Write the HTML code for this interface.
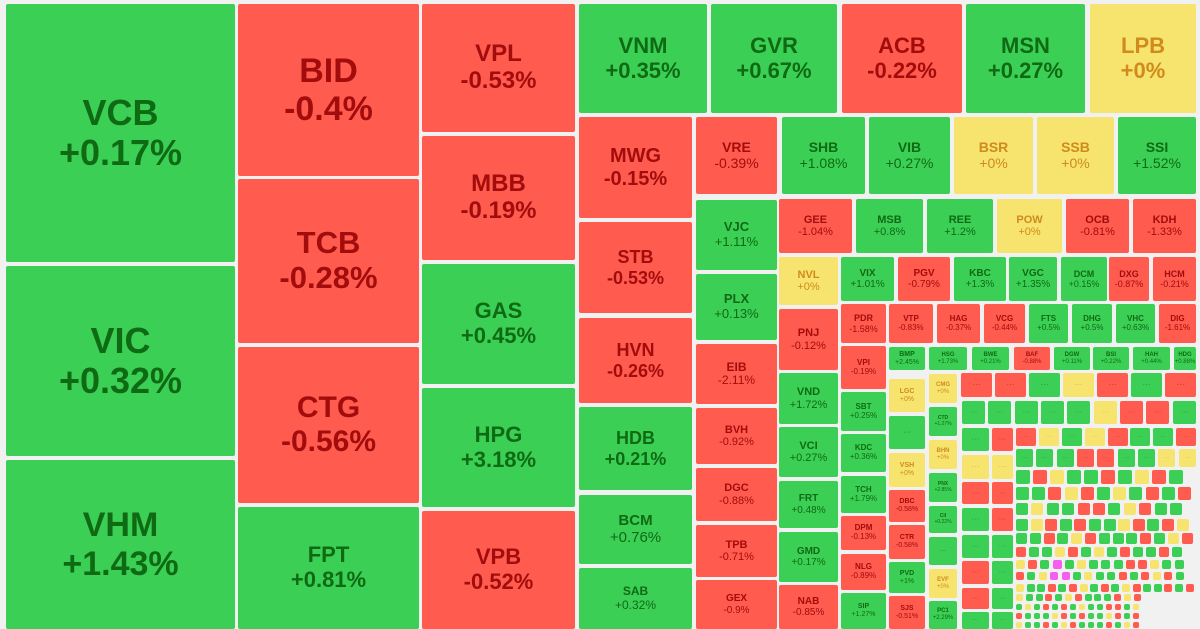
<!DOCTYPE html>
<html><head><meta charset="utf-8">
<style>
html,body{margin:0;padding:0;background:#f1f1f1;}
#map{position:relative;width:1200px;height:629px;overflow:hidden;background:#f1f1f1;font-family:"Liberation Sans",Arial,sans-serif;}
.t{position:absolute;border-radius:2px;display:flex;flex-direction:column;align-items:center;justify-content:center;text-align:center;line-height:1.12;box-sizing:border-box;overflow:hidden;}
.t b{font-weight:700;display:block}
.t span{display:block}
.g{background:#3ccf55;color:#0f6a14}
.r{background:#ff5b4f;color:#a30c0c}
.y{background:#f6e46e;color:#d18a1c}
.m{background:#f55ff0}
</style></head>
<body>
<div id="map"></div>
<script>
// ticker, change %, rect [x1,y1,x2,y2], font size
const tiles = [
["VCB","+0.17%",6,4,235,262,36],["VIC","+0.32%",6,266,235,456,36],["VHM","+1.43%",6,460,235,629,34],
["BID","-0.4%",238,4,419,176,34],["TCB","-0.28%",238,179,419,343,31],["CTG","-0.56%",238,347,419,503,30],["FPT","+0.81%",238,507,419,629,22],
["VPL","-0.53%",422,4,575,132,24],["MBB","-0.19%",422,136,575,260,24],["GAS","+0.45%",422,264,575,384,22],["HPG","+3.18%",422,388,575,507,22],["VPB","-0.52%",422,511,575,629,22],
["VNM","+0.35%",579,4,707,113,22],["GVR","+0.67%",711,4,837,113,22],["ACB","-0.22%",842,4,962,113,22],["MSN","+0.27%",966,4,1085,113,22],["LPB","+0%",1090,4,1196,113,22],
["MWG","-0.15%",579,117,692,218,20],["STB","-0.53%",579,222,692,313,18],["HVN","-0.26%",579,318,692,403,18],["HDB","+0.21%",579,407,692,490,18],["BCM","+0.76%",579,495,692,564,15],["SAB","+0.32%",579,568,692,629,12],
["VRE","-0.39%",696,117,777,194,14],["VJC","+1.11%",696,200,777,270,13],["PLX","+0.13%",696,274,777,340,13],["EIB","-2.11%",696,344,777,404,12],["BVH","-0.92%",696,408,777,464,11],["DGC","-0.88%",696,468,777,521,11],["TPB","-0.71%",696,525,777,577,11],["GEX","-0.9%",696,580,777,629,10],
["SHB","+1.08%",782,117,865,194,14],["VIB","+0.27%",869,117,950,194,14],["BSR","+0%",954,117,1033,194,14],["SSB","+0%",1037,117,1114,194,14],["SSI","+1.52%",1118,117,1196,194,14],
["GEE","-1.04%",779,199,852,253,11],["MSB","+0.8%",856,199,923,253,11],["REE","+1.2%",927,199,993,253,11],["POW","+0%",997,199,1062,253,11],["OCB","-0.81%",1066,199,1129,253,11],["KDH","-1.33%",1133,199,1196,253,11],
["NVL","+0%",779,257,838,305,11],["VIX","+1.01%",841,257,894,301,10],["PGV","-0.79%",898,257,950,301,10],["KBC","+1.3%",954,257,1006,301,10],["VGC","+1.35%",1009,257,1057,301,10],["DCM","+0.15%",1061,257,1107,301,9],["DXG","-0.87%",1109,257,1149,301,9],["HCM","-0.21%",1153,257,1196,301,9],
["PDR","-1.58%",841,304,886,343,9],["VTP","-0.83%",889,304,933,343,8],["HAG","-0.37%",937,304,980,343,8],["VCG","-0.44%",984,304,1025,343,8],["FTS","+0.5%",1029,304,1068,343,8],["DHG","+0.5%",1072,304,1112,343,8],["VHC","+0.63%",1116,304,1155,343,8],["DIG","-1.61%",1159,304,1196,343,8],
["BMP","+2.45%",889,347,925,370,7],["HSG","+1.73%",929,347,967,370,6],["BWE","+0.21%",972,347,1009,370,6],["BAF","-0.88%",1014,347,1050,370,6],["DGW","+0.11%",1054,347,1090,370,6],["BSI","+0.22%",1093,347,1129,370,6],["HAH","+0.44%",1133,347,1170,370,6],["HDG","+0.88%",1174,347,1196,370,6],
["PNJ","-0.12%",779,309,838,370,11],["VND","+1.72%",779,373,838,424,11],["VCI","+0.27%",779,427,838,477,11],["FRT","+0.48%",779,481,838,528,10],["GMD","+0.17%",779,532,838,582,10],["NAB","-0.85%",779,585,838,629,10],
["VPI","-0.19%",841,346,886,389,8],["SBT","+0.25%",841,392,886,431,8],["KDC","+0.36%",841,434,886,472,8],["TCH","+1.79%",841,476,886,513,8],["DPM","-0.13%",841,516,886,550,8],["NLG","-0.89%",841,554,886,590,8],["SIP","+1.27%",841,593,886,629,7],
["LGC","+0%",889,379,925,412,7],["…","+",889,416,925,449,7],["VSH","+0%",889,453,925,487,7],["DBC","-0.58%",889,490,925,522,7],["CTR","-0.58%",889,525,925,559,7],["PVD","+1%",889,562,925,593,7],["SJS","-0.51%",889,596,925,629,7],
["CMG","+0%",929,374,957,403,6],["CTD","+1.27%",929,407,957,436,5],["BHN","+0%",929,440,957,469,6],["PNX","+2.85%",929,473,957,502,5],["CII","+0.22%",929,506,957,533,5],["…","+",929,537,957,565,6],["EVF","+0%",929,569,957,598,6],["PC1","+2.29%",929,601,957,629,6]
];
// small tiles: colour codes
const rowA = ["r","r","g","y","r","g","r"];
const rowB = ["g","g","g","g","g","y","r","r","g"];
const stripL = ["g","y","r","g","g","r","r","g"];
const stripR = ["r","y","r","r","g","g","g","g"];
const rowC = ["r","y","g","y","r","g","g","r"];
const rowD = ["g","g","g","r","r","g","g","y","y"];
const tail = "gryggrgyrgggryrgygrgrgyggrrgyrgggyrgrggyrgryggrgyrgggrgyrrggyrgygrggrgyrgrgygggrryggrgyrggyggrgryrgyggrgrygrgyrggr";

const map = document.getElementById('map');
function cls(p){ if(p.indexOf('+0%')===0) return 'y'; return p[0]==='-'?'r':'g'; }
tiles.forEach(function(t){
  const d = document.createElement('div');
  
  
  let c = cls(t[1]);
  if(t[0]==='…') c='g';
  d.className = 't ' + c;
  d.style.left=t[2]+'px'; d.style.top=t[3]+'px';
  d.style.width=(t[4]-t[2])+'px'; d.style.height=(t[5]-t[3])+'px';
  d.style.fontSize=t[6]+'px';
  if(t[0]==='…'){ d.innerHTML='<span>···</span>'; }
  else d.innerHTML='<b>'+t[0]+'</b><span'+(t[6]>=18?' style="font-weight:700"':'')+'>'+t[1]+'</span>';
  map.appendChild(d);
});
function small(x,y,w,h,c){
  const d=document.createElement('div');
  
  
  d.className='t '+c;
  d.style.left=x+'px';d.style.top=y+'px';d.style.width=w+'px';d.style.height=h+'px';
  d.style.fontSize=Math.max(4,Math.min(8,h/3))+'px';
  if(w>14) d.innerHTML='<span style="opacity:.6">···</span>';
  map.appendChild(d);
}
function row(arr,x1,x2,y1,y2){
  const w=(x2-x1)/arr.length;
  arr.forEach(function(c,i){ small(Math.round(x1+i*w),y1,Math.round(w)-3,y2-y1,c); });
}
row(rowA,961,1199,373,397);
row(rowB,962,1199,401,424);
const sh=[23,24,22,23,23,23,21,17], sy=[428,455,482,508,535,561,588,612];
stripL.forEach(function(c,i){ small(962,sy[i],27,sh[i],c); });
stripR.forEach(function(c,i){ small(992,sy[i],21,sh[i],c); });
row(rowC,1016,1199,428,446);
row(rowD,1016,1199,449,467);
let y=470, size=17, k=0;
while(y<629){
  let x=1016;
  const xmax = y>590 ? 1150 : 1197;
  while(x+size<=xmax){
    let c=tail[k%tail.length]; k++;
    if(y>555 && y<575 && x>1048 && x<1062) c='m';
    small(Math.round(x),Math.round(y),Math.max(4,size-3),Math.max(4,size-3),c);
    x+=size;
  }
  y+=size;
  size=Math.max(9,size-0.8);
}
</script>
</body></html>
